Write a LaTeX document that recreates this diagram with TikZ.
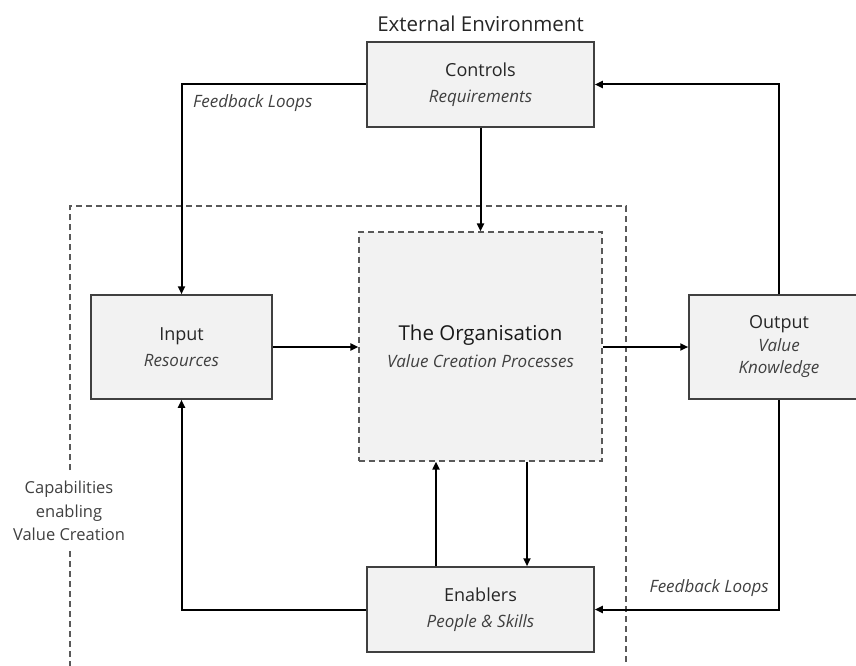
\documentclass[tikz,border=0pt]{standalone}
\usepackage{fontspec}
\setmainfont{Open Sans}
\usetikzlibrary{arrows.meta}

\definecolor{boxfill}{HTML}{F2F2F2}
\definecolor{boxline}{HTML}{404040}
\definecolor{titletxt}{HTML}{262626}
\definecolor{subtxt}{HTML}{404040}
\definecolor{dashc}{HTML}{595959}

\newcommand{\subline}[1]{{\fontsize{17}{25}\selectfont\itshape\color{subtxt}#1}}
\newcommand{\outline}[1]{{\fontsize{17}{22.5}\selectfont\itshape\color{subtxt}#1}}

\begin{document}
\begin{tikzpicture}[x=1pt,y=-1pt,
  box/.style={draw=boxline, line width=1.5pt, fill=boxfill, align=center,
    text=titletxt, inner sep=0pt, font=\fontsize{18}{26}\selectfont},
  orgbox/.style={draw=dashc, line width=1.3pt, dash pattern=on 6pt off 4pt,
    fill=boxfill, align=center, inner sep=0pt, text=black!90,
    font=\fontsize{20.5}{27}\selectfont},
  flow/.style={line width=2pt, black, -{Triangle[length=8pt,width=7pt]}},
  region/.style={draw=dashc, line width=1.3pt, dash pattern=on 6pt off 4pt},
  loopnote/.style={font=\fontsize{17}{20}\selectfont\itshape, text=subtxt, inner sep=0pt},
  plainnote/.style={text=subtxt, align=center, inner sep=0pt}
]
\useasboundingbox (0,0) rectangle (856,666);
\clip (0,0) rectangle (856,666);

% capability boundary (open at the label on the left side)
\draw[region] (70,470) -- (70,206) -- (626,206) -- (626,680);
\draw[region] (70,551) -- (70,680);
\node[plainnote, font=\fontsize{16.5}{23.5}\selectfont] (cap) at (69,511)
  {Capabilities\\enabling\\Value Creation};

% heading
\node[plainnote, anchor=base, text=titletxt, font=\fontsize{20.5}{24}\selectfont]
  (env) at (480.5,32) {External Environment};

% boxes
\node[box, minimum width=227pt, minimum height=85pt] (ctrl) at (480.5,84.5)
  {Controls\\\subline{Requirements}};
\node[box, minimum width=181pt, minimum height=104pt] (inp) at (181.5,347)
  {Input\\\subline{Resources}};
\node[orgbox, minimum width=243pt, minimum height=229pt] (org) at (480.5,346.5)
  {The Organisation\\\subline{Value Creation Processes}};
\node[box, minimum width=180pt, minimum height=104pt, font=\fontsize{18}{22.5}\selectfont]
  (out) at (779,347)
  {Output\\\outline{Value}\\\outline{Knowledge}};
\node[box, minimum width=227pt, minimum height=85pt] (enab) at (480.5,609.5)
  {Enablers\\\subline{People \& Skills}};

% connectors
\draw[flow] (ctrl.west) -| (inp.north);
\draw[flow] (ctrl.south) -- (org.north);
\draw[flow] (inp.east) -- (inp.east -| org.west);
\draw[flow] (org.east |- out.west) -- (out.west);
\draw[flow] (out.north) |- (ctrl.east);
\draw[flow] (out.south) |- (enab.east);
\draw[flow] (enab.west) -| (inp.south);
\draw[flow] ([xshift=-44.5pt]enab.north) -- ([xshift=-44.5pt]org.south);
\draw[flow] ([xshift=46.5pt]org.south) -- ([xshift=46.5pt]enab.north);

% loop labels
\node[loopnote, anchor=base west] (fbtop) at (193,108) {Feedback Loops};
\node[loopnote, anchor=base east] (fbbot) at (769,592) {Feedback Loops};
\end{tikzpicture}
\end{document}
